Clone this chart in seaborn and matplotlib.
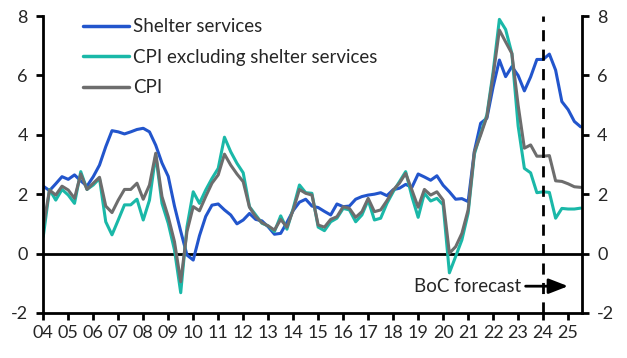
import numpy as np
import pandas as pd
import matplotlib
matplotlib.use("Agg")
import matplotlib.pyplot as plt
import seaborn as sns
from matplotlib.lines import Line2D

# Quarterly data, 2004Q1 - 2025Q3 (% y/y)
quarters = pd.period_range("2004Q1", "2025Q3", freq="Q")

shelter_services = [
    2.27, 2.12, 2.35, 2.59, 2.50, 2.65, 2.45, 2.27,   # 04-05
    2.59, 2.98, 3.60, 4.14, 4.10, 4.03, 4.10, 4.18,   # 06-07
    4.22, 4.10, 3.65, 3.05, 2.60, 1.60, 0.75, -0.05,  # 08-09
    -0.22, 0.60, 1.25, 1.63, 1.67, 1.47, 1.30, 1.00,  # 10-11
    1.13, 1.35, 1.15, 1.10, 0.90, 0.65, 0.68, 1.05,   # 12-13
    1.45, 1.73, 1.83, 1.60, 1.55, 1.42, 1.30, 1.67,   # 14-15
    1.58, 1.60, 1.83, 1.92, 1.97, 2.00, 2.05, 1.95,   # 16-17
    2.15, 2.20, 2.33, 2.23, 2.68, 2.58, 2.47, 2.62,   # 18-19
    2.30, 2.08, 1.83, 1.85, 1.75, 3.45, 4.39, 4.56,   # 20-21
    5.62, 6.52, 5.96, 6.30, 6.00, 5.48, 5.95, 6.54,   # 22-23
    6.54, 6.72, 6.18, 5.12, 4.85, 4.45, 4.27,         # 24-25
]

cpi_ex_shelter = [
    0.57, 2.16, 1.80, 2.16, 1.97, 1.69, 2.76, 2.16,
    2.31, 2.53, 1.07, 0.63, 1.13, 1.64, 1.64, 1.83,
    1.13, 1.80, 3.32, 1.69, 1.02, 0.12, -1.32, 0.90,
    2.08, 1.69, 2.14, 2.53, 2.87, 3.92, 3.43, 3.04,
    2.72, 1.58, 1.30, 1.02, 0.93, 0.74, 1.27, 0.82,
    1.52, 2.31, 2.05, 2.03, 0.89, 0.77, 1.07, 1.19,
    1.52, 1.47, 1.07, 1.30, 1.80, 1.13, 1.19, 1.69,
    2.08, 2.42, 2.76, 1.92, 1.22, 2.03, 1.77, 1.86,
    1.64, -0.65, -0.10, 0.46, 1.36, 3.35, 4.05, 4.67,
    6.12, 7.89, 7.55, 6.74, 4.30, 2.87, 2.72, 2.05,
    2.08, 2.06, 1.19, 1.52, 1.50, 1.50, 1.53,
]

cpi = [
    0.90, 2.14, 1.97, 2.27, 2.14, 1.86, 2.68, 2.16,
    2.37, 2.57, 1.60, 1.38, 1.80, 2.16, 2.16, 2.37,
    1.83, 2.31, 3.38, 1.92, 1.24, 0.40, -0.95, 0.74,
    1.58, 1.44, 1.92, 2.37, 2.65, 3.35, 2.98, 2.68,
    2.42, 1.56, 1.24, 1.04, 0.93, 0.79, 1.15, 0.89,
    1.47, 2.16, 2.03, 1.97, 0.96, 0.89, 1.15, 1.24,
    1.58, 1.52, 1.22, 1.41, 1.86, 1.41, 1.47, 1.78,
    2.14, 2.37, 2.70, 2.14, 1.56, 2.16, 1.97, 2.08,
    1.80, 0.01, 0.23, 0.68, 1.47, 3.43, 3.99, 4.61,
    6.00, 7.53, 7.13, 6.74, 5.00, 3.55, 3.66, 3.28,
    3.28, 3.30, 2.45, 2.43, 2.35, 2.25, 2.23,
]

series_names = ["Shelter services", "CPI excluding shelter services", "CPI"]
series_colors = ["#2255cc", "#1ab8a8", "#6d6d6d"]
year_labels = ["04", "05", "06", "07", "08", "09", "10", "11", "12", "13", "14",
               "15", "16", "17", "18", "19", "20", "21", "22", "23", "24", "25"]
yticks = [-2, 0, 2, 4, 6, 8]
forecast_start = 2024
annotation = "BoC forecast"

xdec = quarters.year + (quarters.quarter - 1) / 4.0
df = pd.concat([
    pd.DataFrame({"x": xdec, "value": vals, "series": name})
    for name, vals in zip(series_names, [shelter_services, cpi_ex_shelter, cpi])
], ignore_index=True)

sns.set_style("ticks")
plt.rcParams["font.family"] = ["Lato", "DejaVu Sans"]
plt.rcParams["font.size"] = 13

fig = plt.figure(figsize=(6.27, 3.58), dpi=100)
ax = fig.add_axes([0.069, 0.126, 0.859, 0.829])

sns.lineplot(data=df, x="x", y="value", hue="series", hue_order=series_names,
             palette=series_colors, linewidth=2.2, ax=ax, legend=False)

ax.axhline(0, color="black", linewidth=2, zorder=1)
ax.axvline(forecast_start, color="black", linewidth=2, dashes=(4, 3), zorder=3)

ax.set_xlim(2004, 2025.55)
ax.set_ylim(-2, 8)
ax.set_yticks(yticks)
ax.set_yticklabels([str(t) for t in yticks])
ax.set_xticks([2004 + i for i in range(len(year_labels))])
ax.set_xticklabels(year_labels)
ax.set_xlabel("")
ax.set_ylabel("")

for side in ["left", "right", "bottom"]:
    ax.spines[side].set_linewidth(2)
    ax.spines[side].set_color("black")
ax.spines["top"].set_visible(False)
ax.tick_params(axis="both", which="both", width=2, length=5, color="black",
               labelsize=13, pad=3)
ax.tick_params(axis="y", labelleft=True, labelright=True, left=True, right=True, pad=6)
ax.tick_params(axis="x", pad=4)

# legend
handles = [Line2D([], [], color=c, linewidth=2.5) for c in series_colors]
ax.legend(handles, series_names, loc="upper left", bbox_to_anchor=(0.059, 1.018),
          frameon=False, handlelength=2.5, handletextpad=0.2, labelspacing=0.72,
          fontsize=13.5, borderaxespad=0)

# annotation with arrow
ax.text(2018.85, -1.1, annotation, ha="left", va="center", fontsize=13.5)
ax.annotate("", xy=(2025.0, -1.1), xytext=(2023.3, -1.1),
            arrowprops=dict(arrowstyle="-|>,head_length=0.9,head_width=0.35",
                            color="black", lw=2, shrinkA=0, shrinkB=0))

fig.savefig("out.png", dpi=100)
